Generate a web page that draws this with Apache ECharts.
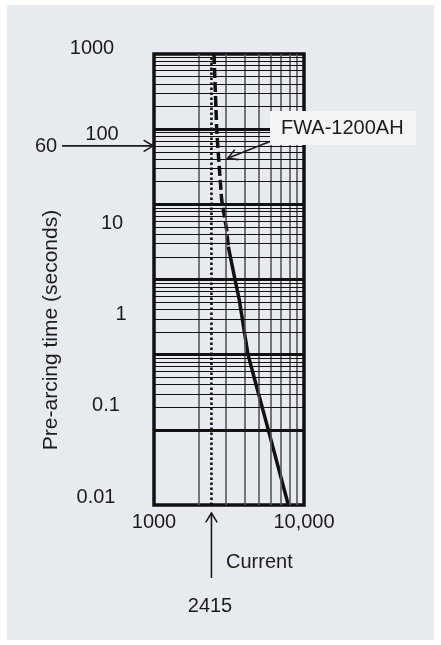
<!DOCTYPE html>
<html>
<head>
<meta charset="utf-8">
<script src="https://cdn.jsdelivr.net/npm/echarts@6/dist/echarts.min.js"></script>
<style>
  html, body { margin: 0; padding: 0; background: #ffffff; }
  #bg { position: absolute; left: 7px; top: 5px; width: 427px; height: 635px; background: #e7eaee; }
  #chart { position: absolute; left: 0; top: 0; width: 441px; height: 645px; }
</style>
</head>
<body>
<div id="bg"></div>
<div id="chart"></div>
<script>
// ---- data ----
const xTickValues = [1000, 10000];
const xTickLabels = ['1000', '10,000'];
const yTickLabels = ['1000', '100', '10', '1', '0.1', '0.01'];
const yTitle = 'Pre-arcing time (seconds)';
const xTitle = 'Current';
const curveName = 'FWA-1200AH';
// dashed (upper) part of the melting curve
const dashedCurrent = [2512, 2618, 2672, 2827, 3052, 3129];
const dashedTime    = [1000, 100, 52.8, 11.4, 4.56, 2.73];
// solid (lower) part of the melting curve
const solidCurrent = [3129, 3467, 3705, 4233, 4898, 5781, 7860];
const solidTime    = [2.73, 1, 0.533, 0.1, 0.0339, 0.01, 0.001];
const currentMarker = 2415;
const timeMarker = 60;
const timeMarkerLabel = '60';
const currentMarkerLabel = '2415';

// ---- grid line values (log paper) ----
const xMin = 1000, xMax = 10000, yMin = 0.001, yMax = 1000;
const decadesY = [], minorY = [], minorX = [];
for (let e = -3; e <= 3; e++) decadesY.push(Math.pow(10, e));
for (let e = -3; e < 3; e++) for (let k = 2; k <= 9; k++) minorY.push(k * Math.pow(10, e));
for (let k = 2; k <= 9; k++) minorX.push(k * 1000);

const font = "'Liberation Sans', Arial, sans-serif";
const ink = '#1c1c1c';

const chart = echarts.init(document.getElementById('chart'), null, { renderer: 'canvas' });

const gridMarks = [];
minorX.forEach(v => gridMarks.push({ xAxis: v, lineStyle: { color: '#555', width: 1.6, type: 'solid' } }));
minorY.forEach(v => gridMarks.push({ yAxis: v, lineStyle: { color: '#111', width: 1.2, type: 'solid' } }));
decadesY.slice(1, -1).forEach(v => gridMarks.push({ yAxis: v, lineStyle: { color: '#111', width: 3.2, type: 'solid' } }));

chart.setOption({
  animation: false,
  backgroundColor: 'transparent',
  grid: { left: 154, top: 54, width: 150, height: 451, show: true, borderColor: '#111', borderWidth: 3.5, backgroundColor: 'transparent' },
  xAxis: {
    type: 'log', min: xMin, max: xMax, logBase: 10,
    axisLine: { show: false }, axisTick: { show: false }, splitLine: { show: false },
    axisLabel: {
      show: true, margin: 7, fontSize: 20, fontFamily: font, color: ink,
      showMinLabel: true, showMaxLabel: true,
      formatter: v => { const i = xTickValues.indexOf(Math.round(v)); return i >= 0 ? xTickLabels[i] : ''; }
    }
  },
  yAxis: {
    type: 'log', min: yMin, max: yMax, logBase: 10,
    axisLine: { show: false }, axisTick: { show: false }, splitLine: { show: false },
    axisLabel: { show: false }
  },
  series: [
    {
      name: 'grid', type: 'line', data: [[xMin, yMin]], symbol: 'none', silent: true, z: 1,
      lineStyle: { width: 0 },
      markLine: { silent: true, symbol: ['none', 'none'], label: { show: false }, animation: false, data: gridMarks }
    },
    {
      name: 'current', type: 'line', symbol: 'none', z: 3,
      data: [[currentMarker, yMin], [currentMarker, yMax]],
      lineStyle: { color: '#111', width: 2.6, type: [2.5, 2.5] }
    },
    {
      name: curveName + ' dashed', type: 'line', symbol: 'none', z: 4,
      data: dashedCurrent.map((x, i) => [x, dashedTime[i]]),
      lineStyle: { color: '#111', width: 3.5, type: [10, 4] }
    },
    {
      name: curveName, type: 'line', symbol: 'none', z: 4,
      data: solidCurrent.map((x, i) => [x, solidTime[i]]),
      lineStyle: { color: '#111', width: 3.5, type: 'solid' }
    }
  ]
});

function arrowHead(tx, ty, angle, len, spread) {
  const a1 = angle + Math.PI - spread, a2 = angle + Math.PI + spread;
  return [[tx + len * Math.cos(a1), ty + len * Math.sin(a1)], [tx, ty], [tx + len * Math.cos(a2), ty + len * Math.sin(a2)]];
}

const yPix = chart.convertToPixel({ yAxisIndex: 0 }, timeMarker);
const xPix = chart.convertToPixel({ xAxisIndex: 0 }, currentMarker);
const plotLeft = chart.convertToPixel({ xAxisIndex: 0 }, xMin);
const tip = chart.convertToPixel({ gridIndex: 0 }, [3100, 41]);

const txt = (x, y, s, align, size, extra) => Object.assign({
  type: 'text', x: x, y: y, z: 20,
  style: { text: s, fill: ink, font: (size || 20) + 'px ' + font, textAlign: align || 'center', textVerticalAlign: 'middle' }
}, extra || {});
const line = (pts, w) => ({ type: 'polyline', z: 20, shape: { points: pts }, style: { stroke: ink, lineWidth: w || 1.6, fill: null } });

const yLabelPos = [[92, 48.5], [102, 134.5], [112, 223], [121, 314], [106, 405.5], [96, 497.5]];

const elements = [];
yTickLabels.forEach((s, i) => elements.push(txt(yLabelPos[i][0], yLabelPos[i][1], s)));
elements.push(txt(51, 330, yTitle, 'center', 21, { rotation: Math.PI / 2 }));
elements.push(txt(46, yPix + 0.5, timeMarkerLabel));
elements.push(line([[62, yPix], [plotLeft - 1, yPix]]));
elements.push(line(arrowHead(plotLeft - 1, yPix, 0, 11, 0.55)));
elements.push(line([[xPix, 578], [xPix, 513]]));
elements.push(line(arrowHead(xPix, 513, -Math.PI / 2, 11, 0.55)));
elements.push(txt(226, 562, xTitle, 'left'));
elements.push(txt(210, 606, currentMarkerLabel));
elements.push({ type: 'rect', z: 18, shape: { x: 270, y: 111, width: 146, height: 34 }, style: { fill: '#f2f4f6' } });
elements.push(txt(281, 128.5, curveName, 'left'));
const sx = 270, sy = 141.5;
const ang = Math.atan2(tip[1] - sy, tip[0] - sx);
elements.push(line([[sx, sy], tip]));
elements.push(line(arrowHead(tip[0], tip[1], ang, 11, 0.5)));

chart.setOption({ graphic: { elements: elements } });
</script>
</body>
</html>
